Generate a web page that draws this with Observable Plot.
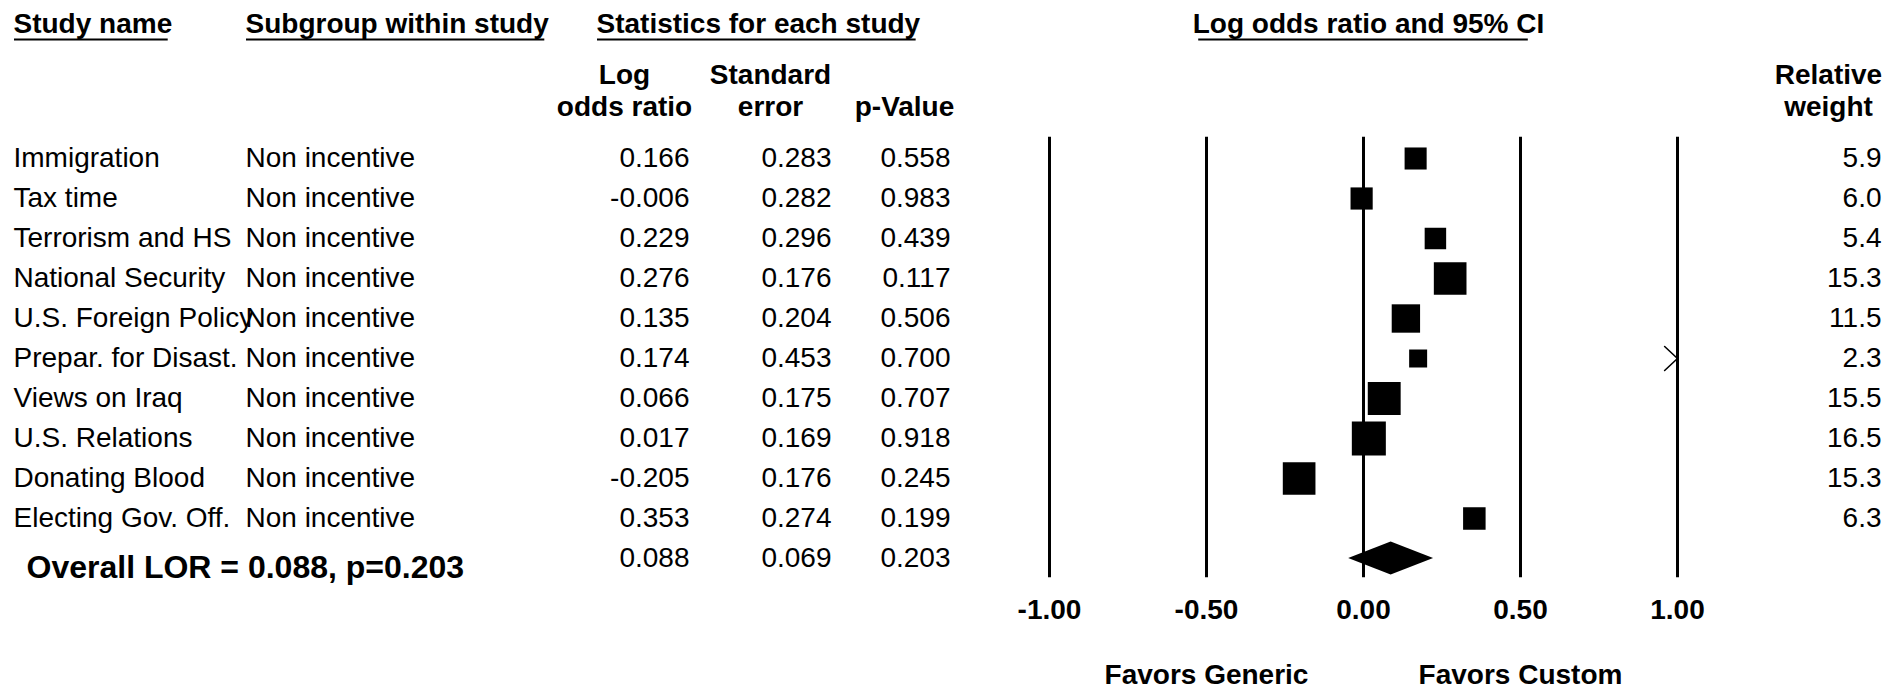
<!DOCTYPE html>
<html>
<head>
<meta charset="utf-8">
<script src="https://cdn.jsdelivr.net/npm/d3@7"></script>
<script src="https://cdn.jsdelivr.net/npm/@observablehq/plot@0.6"></script>
<style>
  html, body { margin: 0; padding: 0; background: #fff; overflow: hidden; }
  svg { display: block; }
</style>
</head>
<body>
<div id="chart"></div>
<script>
// ---- data ----
const studies = ["Immigration", "Tax time", "Terrorism and HS", "National Security", "U.S. Foreign Policy",
  "Prepar. for Disast.", "Views on Iraq", "U.S. Relations", "Donating Blood", "Electing Gov. Off."];
const subgroups = ["Non incentive", "Non incentive", "Non incentive", "Non incentive", "Non incentive",
  "Non incentive", "Non incentive", "Non incentive", "Non incentive", "Non incentive"];
const logOddsRatio = [0.166, -0.006, 0.229, 0.276, 0.135, 0.174, 0.066, 0.017, -0.205, 0.353];
const standardError = [0.283, 0.282, 0.296, 0.176, 0.204, 0.453, 0.175, 0.169, 0.176, 0.274];
const pValue = [0.558, 0.983, 0.439, 0.117, 0.506, 0.700, 0.707, 0.918, 0.245, 0.199];
const relativeWeight = [5.9, 6.0, 5.4, 15.3, 11.5, 2.3, 15.5, 16.5, 15.3, 6.3];
const overallLOR = 0.088, overallSE = 0.069, overallP = 0.203;
const xTicks = [-1, -0.5, 0, 0.5, 1];
const favorLabels = ["Favors Generic", "Favors Custom"];
const favorValues = [-0.5, 0.5];
const headerTop = ["Study name", "Subgroup within study", "Statistics for each study"];
const forestTitle = "Log odds ratio and 95% CI";
const columnHeaders = [["Log", "odds ratio"], ["Standard", "error"], ["", "p-Value"], ["Relative", "weight"]];

// ---- layout ----
const FONT = "Arial, 'Liberation Sans', sans-serif";
const FS = 28;
const col = {study: 13, sub: 245, lor: 689, se: 831, p: 950, weight: 1881};
const headerTopX = [13, 245, 596];
const columnHeaderX = [624, 770, 904, 1828];
const X_DOMAIN = [-1, 1], X_RANGE = [1049, 1677];
const Y_DOMAIN = [0, 10], Y_RANGE = [158, 558];
const UNDERLINE_Y = 39;
const Z = 1.96;

const rows = studies.map((s, i) => ({
  row: i, study: s, sub: subgroups[i], lor: logOddsRatio[i], se: standardError[i],
  p: pValue[i], w: relativeWeight[i]
}));
const overallRow = studies.length;
const overall = [{row: overallRow, lor: overallLOR, se: overallSE, p: overallP}];

// diamond for the overall effect
const oLo = overallLOR - Z * overallSE, oHi = overallLOR + Z * overallSE;
const diamond = [
  {x: oLo, y1: overallRow, y2: overallRow},
  {x: overallLOR, y1: overallRow - 0.41, y2: overallRow + 0.41},
  {x: oHi, y1: overallRow, y2: overallRow}
];

// arrows where the CI runs past the axis limit
const xMax = d3.max(xTicks), xMin = d3.min(xTicks);
const arrows = [];
rows.forEach(r => {
  if (r.lor + Z * r.se > xMax) {
    arrows.push({k: r.row + "r", x: xMax - 0.041, y: r.row - 0.3});
    arrows.push({k: r.row + "r", x: xMax, y: r.row});
    arrows.push({k: r.row + "r", x: xMax - 0.041, y: r.row + 0.3});
  }
  if (r.lor - Z * r.se < xMin) {
    arrows.push({k: r.row + "l", x: xMin + 0.041, y: r.row - 0.3});
    arrows.push({k: r.row + "l", x: xMin, y: r.row});
    arrows.push({k: r.row + "l", x: xMin + 0.041, y: r.row + 0.3});
  }
});

// underline extents measured from the header text widths
const ctx = document.createElement("canvas").getContext("2d");
ctx.font = `bold ${FS}px Arial, 'Liberation Sans', sans-serif`;
const xPx = d3.scaleLinear(X_DOMAIN, X_RANGE);
const yPx = d3.scaleLinear(Y_DOMAIN, Y_RANGE);
const underlines = headerTop.map((t, i) => {
  const w = ctx.measureText(t).width;
  return {x1: xPx.invert(headerTopX[i] + 1), x2: xPx.invert(headerTopX[i] + w - 4)};
});
{
  const w = ctx.measureText(forestTitle).width;
  const c = X_RANGE[0] + (X_RANGE[1] - X_RANGE[0]) / 2 + 5;
  underlines.push({x1: xPx.invert(c - w / 2 + 6), x2: xPx.invert(c + w / 2 - 16)});
}
const underlineY = yPx.invert(UNDERLINE_Y);

const bold = {fontFamily: FONT, fontSize: FS, fontWeight: "bold", fill: "black", lineAnchor: "middle"};
const common = {fontFamily: FONT, fontSize: FS, fill: "black", frameAnchor: "left", lineAnchor: "middle"};

const headerMarks = [];
headerTop.forEach((t, i) => {
  headerMarks.push(Plot.text([t], {...bold, text: d => d, frameAnchor: "top-left", textAnchor: "start",
    dx: headerTopX[i], dy: 24}));
});
headerMarks.push(Plot.text([forestTitle], {...bold, x: () => 0, text: d => d, frameAnchor: "top",
  dx: 5, dy: 24}));
columnHeaders.forEach((lines, i) => {
  lines.forEach((t, j) => {
    if (!t) return;
    headerMarks.push(Plot.text([t], {...bold, text: d => d, frameAnchor: "top-left", textAnchor: "middle",
      dx: columnHeaderX[i], dy: j === 0 ? 75 : 107}));
  });
});

const plot = Plot.plot({
  width: 1902,
  height: 689,
  marginTop: 0, marginRight: 0, marginBottom: 0, marginLeft: 0,
  style: {fontFamily: FONT, background: "white", color: "black"},
  x: {domain: X_DOMAIN, range: X_RANGE, axis: null},
  y: {domain: Y_DOMAIN, range: Y_RANGE, axis: null},
  r: {type: "linear", domain: [0, 16.5], range: [8.69, 19.19]},
  marks: [
    ...headerMarks,
    Plot.ruleY(underlines, {y: () => underlineY, x1: "x1", x2: "x2", stroke: "black", strokeWidth: 2}),
    // table rows
    Plot.text(rows, {...common, y: "row", text: "study", textAnchor: "start", dx: col.study}),
    Plot.text(rows, {...common, y: "row", text: "sub", textAnchor: "start", dx: col.sub}),
    Plot.text(rows, {...common, y: "row", text: d => d.lor.toFixed(3), textAnchor: "end", dx: col.lor}),
    Plot.text(rows, {...common, y: "row", text: d => d.se.toFixed(3), textAnchor: "end", dx: col.se}),
    Plot.text(rows, {...common, y: "row", text: d => d.p.toFixed(3), textAnchor: "end", dx: col.p}),
    Plot.text(rows, {...common, y: "row", text: d => d.w.toFixed(1), textAnchor: "end", dx: col.weight}),
    // overall row
    Plot.text(overall, {...common, y: "row", text: d => d.lor.toFixed(3), textAnchor: "end", dx: col.lor}),
    Plot.text(overall, {...common, y: "row", text: d => d.se.toFixed(3), textAnchor: "end", dx: col.se}),
    Plot.text(overall, {...common, y: "row", text: d => d.p.toFixed(3), textAnchor: "end", dx: col.p}),
    Plot.text(overall, {...common, y: "row", text: d => `Overall LOR = ${d.lor.toFixed(3)}, p=${d.p.toFixed(3)}`,
      textAnchor: "start", dx: 26, dy: 9, fontSize: 32, fontWeight: "bold"}),
    // forest plot
    Plot.ruleX(xTicks, {x: d => d, y1: () => -0.53, y2: () => overallRow + 0.48, stroke: "black", strokeWidth: 3}),
    Plot.dot(rows, {x: "lor", y: "row", r: "w", symbol: "square", fill: "black", stroke: "none"}),
    Plot.areaY(diamond, {x: "x", y1: "y1", y2: "y2", fill: "black"}),
    Plot.line(arrows, {x: "x", y: "y", z: "k", stroke: "black", strokeWidth: 1.6}),
    // tick labels
    Plot.text(xTicks, {...bold, x: d => d, text: d => d.toFixed(2), frameAnchor: "top", dy: 610}),
    Plot.text(favorLabels, {...bold, x: (d, i) => favorValues[i], text: d => d, frameAnchor: "top", dy: 675})
  ]
});

document.getElementById("chart").appendChild(plot);
</script>
</body>
</html>
